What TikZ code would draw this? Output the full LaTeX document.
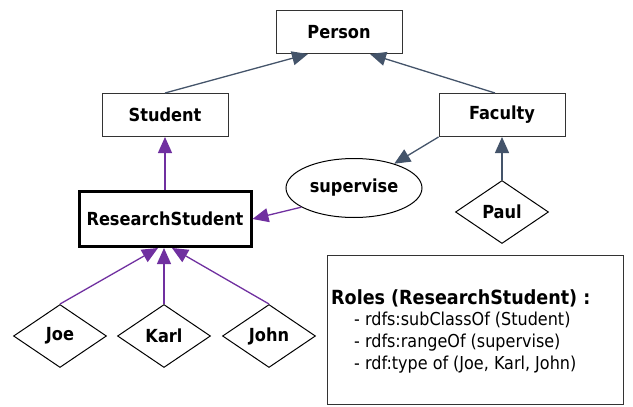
\documentclass[tikz,border=0pt]{standalone}
\usepackage{fontspec}
\setmainfont{DejaVu Sans Condensed}
\usetikzlibrary{shapes.geometric,arrows.meta}
\definecolor{edgeblue}{HTML}{44546A}
\definecolor{edgepurple}{HTML}{7030A0}
\tikzset{
  classbox/.style={draw=black!80, line width=1pt, minimum width=126pt, minimum height=43pt, font=\fontsize{18}{20}\selectfont\bfseries},
  rolebox/.style={draw=black, line width=3pt, minimum width=172pt, minimum height=55pt, font=\fontsize{18}{20}\selectfont\bfseries},
  propnode/.style={draw=black, line width=1pt, ellipse, minimum width=136pt, minimum height=59pt, inner sep=0pt, font=\fontsize{18}{20}\selectfont\bfseries},
  instnode/.style={draw=black, line width=1pt, diamond, aspect=1.48, minimum width=93pt, minimum height=63pt, inner sep=0pt, font=\fontsize{18}{20}\selectfont\bfseries},
  blueedge/.style={draw=edgeblue, line width=1.3pt, -{Triangle[length=16pt,width=14pt]}},
  purpleedge/.style={draw=edgepurple, line width=1.3pt, -{Triangle[length=16pt,width=14pt]}},
}
\begin{document}
\begin{tikzpicture}[x=1pt,y=-1pt]
\useasboundingbox (0,0) rectangle (633,407);
\node[classbox] (person) at (339,32) {Person};
\node[classbox] (student) at (165,115) {Student};
\node[classbox] (faculty) at (502,115) {Faculty};
\node[propnode] (supervise) at (354,188) {supervise};
\node[instnode] (paul) at (502,212) {Paul};
\node[rolebox] (rs) at (165,219) {ResearchStudent};
\node[instnode] (joe) at (60,336) {Joe};
\node[instnode] (karl) at (164,336) {Karl};
\node[instnode] (john) at (269,336) {John};

\node[draw=black!80, line width=1pt, minimum width=296pt, minimum height=149pt] (roles) at (475,330) {};
\node[anchor=north west, align=left, inner sep=0pt, font=\fontsize{17.8}{21.8}\selectfont] (rolestext) at (331,289)
  {{\fontsize{19.5}{21.8}\selectfont\bfseries Roles (ResearchStudent) :}\\
   \hspace{23pt}- rdfs:subClassOf (Student)\\
   \hspace{23pt}- rdfs:rangeOf (supervise)\\
   \hspace{23pt}- rdf:type of (Joe, Karl, John)};

\path[blueedge] (student.north) -- ([xshift=-31pt]person.south);
\path[blueedge] ([xshift=-7pt]faculty.north) -- ([xshift=31pt]person.south);
\path[blueedge] (faculty.south west) -- (supervise);
\path[blueedge] (paul.north) -- (faculty.south);
\path[purpleedge] (rs.north) -- (student.south);
\path[purpleedge] (supervise.200) -- (rs.east);
\path[purpleedge] (joe.north) -- ([xshift=-7pt]rs.south);
\path[purpleedge] (karl.north) -- ([xshift=-1pt]rs.south);
\path[purpleedge] (john.north) -- ([xshift=7pt]rs.south);
\end{tikzpicture}
\end{document}
